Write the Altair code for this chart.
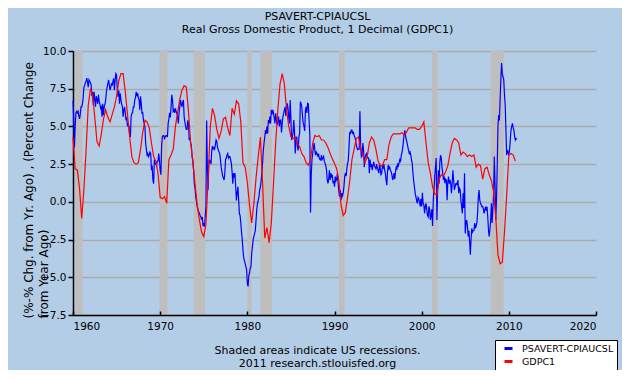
import altair as alt
import pandas as pd

# ---------------- data ----------------
series_names = ["PSAVERT-CPIAUCSL", "GDPC1"]
x_ticks = [1960, 1970, 1980, 1990, 2000, 2010, 2020]
y_ticks = [-7.5, -5.0, -2.5, 0.0, 2.5, 5.0, 7.5, 10.0]

# NBER recessions (decimal years)
rec_start = [1960.25, 1969.917, 1973.833, 1980.0, 1981.5, 1990.5, 2001.167, 2007.917]
rec_end = [1961.083, 1970.833, 1975.167, 1980.5, 1982.833, 1991.167, 2001.833, 2009.417]

# PSAVERT - CPIAUCSL (monthly, starting Jan 1960)
blue_1960s = [
    6.7, 5.5, 3.6, 5.0, 5.9, 6.0, 5.9, 6.0, 5.7, 5.5, 5.8, 6.3,
    6.3, 6.5, 6.9, 7.6, 7.7, 7.9, 8.0, 8.2, 7.9, 7.6, 8.1, 8.0,
    7.9, 7.75, 7.0, 7.3, 6.4, 7.3, 6.8, 6.3, 7.0, 6.8, 6.5, 7.1,
    6.7, 6.5, 6.2, 6.3, 5.65, 6.5, 5.76, 6.3, 6.5, 6.75, 7.3, 7.6,
    7.86, 8.08, 7.75, 7.4, 7.6, 7.86, 7.7, 7.97, 8.19, 7.4, 8.08, 8.5,
    8.4, 7.4, 6.97, 7.4, 6.5, 7.2, 6.75, 6.5, 6.3, 5.65, 6.1, 6.3,
    5.87, 5.4, 5.6, 5.0, 5.2, 5.0, 4.54, 4.3, 5.65, 5.87, 5.9, 6.3,
    6.3, 6.75, 6.9, 7.3, 7.0, 7.2, 6.9, 6.75, 6.1, 7.0, 6.5, 5.87,
    5.9, 5.4, 5.2, 5.0, 3.9, 3.5, 3.1, 3.2, 3.0, 3.1, 3.3, 3.2,
    2.1, 2.4, 1.45, 1.2, 2.8, 2.6, 2.5, 2.4, 2.7, 2.7, 3.2, 2.8,
]
blue_1970s = [
    2.1, 1.8, 3.7, 4.3, 4.4, 4.4, 4.2, 4.3, 4.4, 4.4, 4.3, 5.2,
    5.5, 5.9, 5.6, 6.3, 7.1, 6.75, 6.0, 6.1, 5.9, 6.2, 6.0, 5.87,
    5.6, 5.2, 5.9, 6.3, 6.75, 6.5, 6.3, 6.6, 6.75, 5.65, 5.3, 5.0,
    4.8, 4.8, 5.4, 5.2, 4.1, 4.2, 3.9, 3.7, 3.0, 2.8, 2.1, 1.2,
    0.9, 0.35, 0.0, -0.3, -0.5, -0.65, -0.76, -0.9, -1.0, -1.2, -1.0, -1.6,
    -1.4, -1.65, -1.0, -0.3, 5.4, 2.3, 0.8, 2.55, 2.8, 2.6, 2.55, 3.4,
    3.7, 3.5, 3.6, 3.5, 3.8, 4.1, 4.0, 3.6, 3.45, 3.3, 3.2, 2.8,
    2.3, 2.0, 1.7, 1.6, 1.45, 1.9, 2.8, 2.9, 3.1, 3.2, 2.9, 3.0,
    3.0, 2.8, 2.55, 2.0, 1.2, 1.9, 1.6, 1.9, 1.0, 0.1, 0.6, 1.0,
    0.2, -0.76, -0.9, -1.4, -2.0, -2.5, -3.2, -3.7, -3.9, -4.1, -4.3, -4.5,
]
blue_1980s = [
    -5.4, -5.6, -4.9, -4.7, -4.4, -4.3, -3.4, -3.0, -2.5, -2.3, -2.1, -1.9,
    -1.2, -0.5, -0.1, 0.1, 0.35, 0.8, 1.0, 1.4, 1.9, 2.6, 3.4, 3.9,
    4.3, 4.76, 4.5, 5.0, 4.54, 5.43, 5.2, 5.65, 5.2, 6.1, 5.8, 6.1,
    5.9, 5.54, 5.2, 5.87, 5.43, 5.1, 5.3, 5.65, 5.0, 5.4, 5.43, 4.6,
    5.2, 5.65, 5.87, 6.1, 6.3, 5.7, 6.1, 6.53, 6.2, 5.6, 5.2, 6.75,
    5.5, 4.1, 4.3, 4.6, 5.43, 4.54, 3.2, 4.1, 4.32, 3.66, 3.4, 4.32,
    4.54, 6.64, 6.53, 6.3, 5.65, 5.2, 5.0, 4.7, 6.1, 6.3, 5.9, 6.53,
    6.5, 5.43, 4.5, -0.7, 1.8, 2.8, 3.2, 3.6, 3.9, 3.4, 3.1, 3.3,
    3.2, 3.0, 3.2, 2.9, 2.8, 2.77, 3.1, 2.8, 2.9, 3.0, 2.7, 2.55,
    2.4, 2.1, 1.45, 1.23, 1.5, 2.1, 1.45, 1.9, 1.6, 1.8, 1.23, 1.4,
]
blue_1990s = [
    1.0, 1.67, 1.4, 1.5, 1.9, 1.23, 0.67, 0.34, 0.79, 0.12, 0.57, 0.4,
    0.6, 1.01, 1.67, 1.9, 1.7, 2.2, 2.55, 2.77, 3.66, 4.65, 4.5, 4.75,
    4.75, 4.5, 4.65, 4.4, 4.3, 4.1, 3.8, 3.55, 3.45, 3.5, 3.5, 6.0,
    3.65, 3.0, 3.1, 3.9, 3.45, 2.3, 2.9, 3.1, 3.2, 3.0, 2.9, 2.9,
    1.9, 2.8, 2.3, 2.5, 2.1, 2.4, 2.65, 2.4, 2.3, 2.2, 2.5, 2.2,
    2.1, 1.9, 2.55, 2.2, 1.8, 1.9, 2.4, 2.2, 2.5, 2.1, 1.9, 1.45,
    1.1, 2.0, 2.45, 2.2, 2.3, 2.1, 2.0, 1.8, 1.45, 1.6, 1.9, 1.5,
    2.0, 2.3, 2.2, 2.55, 2.4, 2.6, 2.8, 2.7, 3.1, 3.3, 3.6, 4.1,
    4.5, 4.75, 4.3, 4.1, 3.9, 3.65, 3.4, 3.2, 3.3, 3.1, 2.8, 2.55,
    1.9, 1.4, 1.0, 0.6, 0.35, 0.1, -0.1, 0.3, 0.2, 0.0, -0.3, 0.2,
]
blue_2000s = [
    -0.3, 0.6, -0.1, -0.2, -0.76, -0.3, -0.1, -0.5, -0.9, -1.0, -0.3, -0.5,
    -1.2, -0.9, -0.5, -1.6, 0.1, 0.8, 1.7, 2.3, 2.9, -1.2, 0.8, 2.1,
    1.2, 2.6, 3.1, 2.9, 2.3, 1.9, 1.45, 1.7, 1.23, 1.5, 1.45, 0.1,
    1.3, 1.67, 1.2, 1.45, 1.2, 0.57, 1.23, 2.1, 1.45, 0.79, 1.0, 1.2,
    1.23, 1.1, 1.45, 0.57, 0.9, 0.79, 0.1, -0.32, -0.76, 0.57, -0.4, 1.9,
    -2.1, -1.4, -1.2, -1.6, -2.3, -1.9, -2.6, -3.5, -2.5, -1.75, -2.0, -1.9,
    -1.9, -1.4, -1.75, -1.6, -1.4, -0.76, 0.34, 0.79, 0.12, -0.1, -0.2, -0.32,
    -0.3, -0.5, -0.76, -0.5, -0.32, -0.6, -0.32, -1.0, -1.9, -2.3, -1.8, -1.2,
    -0.1, -1.4, -0.5, 0.4, 3.0, 1.2, -1.2, 0.1, 2.3, 5.0, 5.75, 5.4,
    6.8, 8.1, 9.2, 8.5, 8.3, 8.1, 7.1, 6.4, 4.75, 3.1, 3.45, 3.3,
]
blue_2010 = [3.1, 3.45, 4.1, 4.75, 5.0, 5.2, 4.9, 4.75, 4.3, 4.1, 4.2, 4.15]

# GDPC1, percent change from year ago (quarterly, starting 1960 Q1)
red_1960s = [
    4.3, 2.2, 2.1, 0.9,
    -1.1, 0.8, 3.4, 6.4,
    7.5, 7.1, 5.6, 4.0,
    3.7, 4.5, 5.5, 6.1,
    5.6, 5.3, 5.8, 6.3,
    7.0, 8.0, 8.5, 8.5,
    7.3, 5.8, 4.3, 3.0,
    2.6, 2.5, 2.6, 3.5,
    4.6, 5.4, 5.3, 4.9,
    3.9, 3.0, 2.7, 1.9,
]
red_1970s = [
    0.3, 0.2, 0.35, -0.1,
    2.8, 3.1, 3.5, 5.0,
    5.9, 6.8, 7.4, 7.7,
    7.6, 6.0, 3.9, 2.6,
    1.2, -0.2, -1.2, -2.0,
    -2.3, -1.5, 1.5, 5.0,
    6.2, 5.7, 4.8, 4.2,
    4.7, 5.5, 5.6, 4.9,
    4.4, 6.2, 5.8, 6.7,
    6.5, 5.3, 2.6, 2.3,
]
red_1980s = [
    1.3, -0.2, -1.4, -0.1,
    1.6, 3.0, 4.3, 1.2,
    -2.4, -1.7, -2.7, -1.4,
    1.2, 3.9, 6.1, 7.8,
    8.5, 7.8, 6.1, 5.0,
    4.3, 4.2, 4.3, 3.8,
    3.66, 3.2, 3.0, 2.6,
    2.44, 2.8, 3.9, 4.4,
    4.32, 4.4, 4.1, 4.1,
    3.9, 3.6, 3.2, 2.85,
]
red_1990s = [
    2.55, 2.2, 1.4, -0.2,
    -0.9, -0.7, 0.3, 1.4,
    2.8, 3.5, 4.2, 4.3,
    3.6, 3.1, 2.6, 3.0,
    3.9, 4.3, 4.1, 3.5,
    2.7, 2.4, 2.4, 2.8,
    2.8, 3.8, 4.3, 4.5,
    4.5, 4.5, 4.5, 4.6,
    4.4, 4.6, 4.9, 4.9,
    4.9, 4.9, 4.8, 4.8,
]
red_2000s = [
    5.0, 5.3, 3.9, 2.6,
    1.9, 1.0, 0.55, 0.45,
    1.5, 1.8, 1.7, 2.0,
    2.4, 3.2, 3.9, 4.2,
    4.1, 3.9, 3.1, 3.3,
    3.2, 3.0, 3.1, 3.0,
    3.1, 2.3, 2.5, 2.4,
    1.5, 2.2, 2.3, 1.8,
    1.4, 0.7, -1.0, -3.5,
    -4.1, -4.0, -2.0, 0.4,
]
red_2010 = [3.1, 3.2, 3.1, 2.7]

# ---------------- tables ----------------
blue_vals = blue_1960s + blue_1970s + blue_1980s + blue_1990s + blue_2000s + blue_2010
red_vals = red_1960s + red_1970s + red_1980s + red_1990s + red_2000s + red_2010

blue_df = pd.DataFrame({
    "year": [1960 + i / 12 for i in range(len(blue_vals))],
    "value": blue_vals,
    "series": series_names[0],
})
red_df = pd.DataFrame({
    "year": [1960 + i / 4 for i in range(len(red_vals))],
    "value": red_vals,
    "series": series_names[1],
})
rec_df = pd.DataFrame({"start": rec_start, "end": rec_end})

FONT = "DejaVu Sans"
x_scale = alt.Scale(domain=[1960, 2020], nice=False, zero=False)
y_scale = alt.Scale(domain=[-7.5, 10], nice=False, zero=False)
color_scale = alt.Scale(domain=series_names, range=["#0000FF", "#FF0000"])

bottom_axis = alt.Axis(
    orient="bottom", values=x_ticks, format="d", grid=False, ticks=False, tickSize=0,
    labelPadding=6, labelFont=FONT, labelFontSize=10.5, labelColor="black",
    domainColor="black", domainWidth=1.5, zindex=1,
    title=["Shaded areas indicate US recessions.", "2011 research.stlouisfed.org"],
    titleFont=FONT, titleFontSize=11, titleFontWeight="normal", titleColor="black",
    titleX=244, titleY=29, titleAlign="center", titleBaseline="top", titleLineHeight=13,
)
tick_axis = alt.Axis(
    orient="top", offset=-264, values=x_ticks, labels=False, domain=False,
    ticks=True, tickSize=4, tickColor="black", tickWidth=1.5, grid=False,
    title=None, zindex=1,
)
y_axis = alt.Axis(
    values=y_ticks, format=".1f", grid=True, gridColor="#AAAAAA", gridWidth=1.5,
    domainColor="black", domainWidth=1.5, tickColor="black", tickSize=5, tickWidth=1.5,
    labelPadding=2, labelFont=FONT, labelFontSize=10.5, labelColor="black",
    title=["(%-% Chg. from Yr. Ago) , (Percent Change", "from Year Ago)"],
    titleFont=FONT, titleFontSize=12, titleFontWeight="normal", titleColor="black",
    titleAngle=270, titleAlign="left", titleBaseline="top", titleX=-50, titleY=267,
    titleLineHeight=15,
)
legend = alt.Legend(
    orient="none", legendX=422, legendY=289, title=None, direction="vertical",
    fillColor="white", strokeColor="black", padding=3, symbolType="stroke",
    symbolSize=64, symbolStrokeWidth=3, symbolOffset=5, labelOffset=8,
    labelFont=FONT, labelFontSize=9.5, labelColor="black", rowPadding=0,
)

rects = alt.Chart(rec_df).mark_rect(color="#BEBEBE").encode(
    x=alt.X("start:Q", scale=x_scale, axis=bottom_axis),
    x2="end:Q",
)
blue = alt.Chart(blue_df).mark_line(strokeWidth=1.2).encode(
    x=alt.X("year:Q", scale=x_scale, axis=tick_axis),
    y=alt.Y("value:Q", scale=y_scale, axis=y_axis),
    color=alt.Color("series:N", scale=color_scale, legend=legend),
)
red = alt.Chart(red_df).mark_line(strokeWidth=1.2).encode(
    x=alt.X("year:Q", scale=x_scale, axis=None),
    y=alt.Y("value:Q", scale=y_scale, axis=y_axis),
    color=alt.Color("series:N", scale=color_scale, legend=legend),
)

chart = alt.layer(rects, blue, red).resolve_axis(x="independent").properties(
    width=523,
    height=264,
    autosize=alt.AutoSizeParams(type="none"),
    padding={"left": 65, "top": 43, "right": 26, "bottom": 55},
    background="#B4CDE6",
    title=alt.TitleParams(
        text=["PSAVERT-CPIAUCSL", "Real Gross Domestic Product, 1 Decimal (GDPC1)"],
        font=FONT, fontSize=11, fontWeight="normal", color="black",
        anchor="middle", dx=-17, offset=11, lineHeight=13,
    ),
).configure_view(stroke="transparent")

chart.save("out.html", embed_options={"renderer": "svg", "actions": False})
